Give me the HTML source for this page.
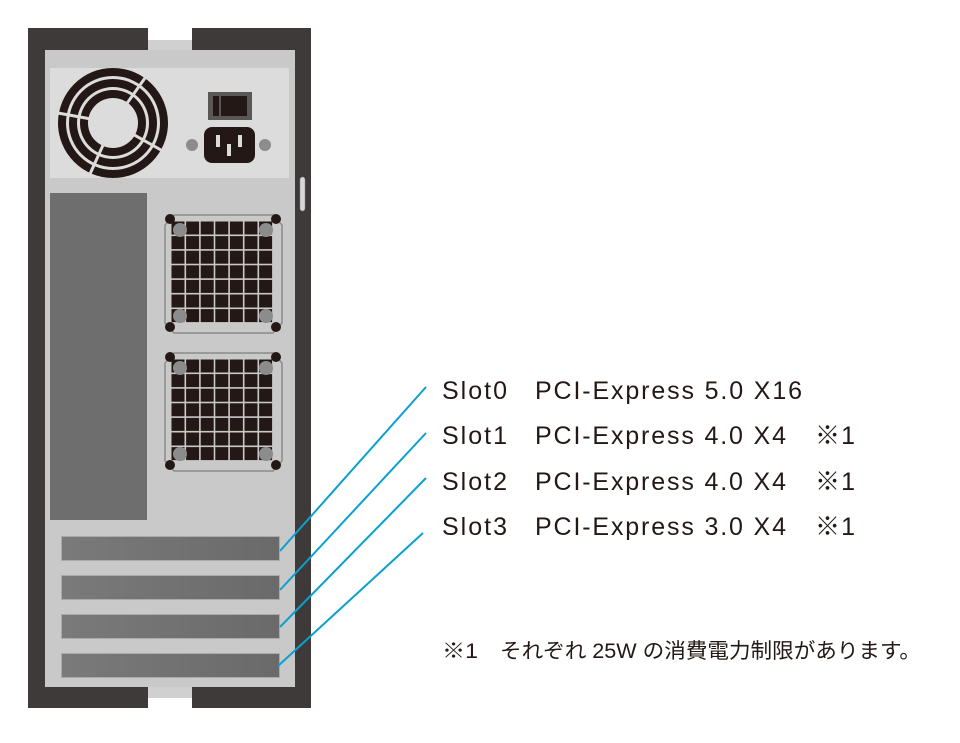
<!DOCTYPE html>
<html><head><meta charset="utf-8"><style>html,body{margin:0;padding:0;background:#fff}svg{display:block}</style></head>
<body>
<svg width="960" height="743" viewBox="0 0 960 743" xmlns="http://www.w3.org/2000/svg">
<defs>
<linearGradient id="sg" x1="0" x2="1" y1="0" y2="0"><stop offset="0" stop-color="#7a7a7a"/><stop offset="1" stop-color="#6a6a6a"/></linearGradient>
</defs>
<rect x="28" y="28" width="283" height="680" fill="#3e3a39"/>
<rect x="148" y="28" width="44" height="12" fill="#fff"/>
<rect x="148" y="698" width="44" height="10" fill="#fff"/>
<rect x="45" y="50" width="250" height="637" fill="#c9c9c9"/>
<rect x="148" y="40" width="44" height="10" fill="#d0d0d0"/>
<rect x="148" y="687" width="44" height="11" fill="#d0d0d0"/>
<rect x="300" y="177" width="5" height="34" rx="2.5" fill="#d8d8d8" stroke="#888" stroke-width="0.5"/>
<rect x="50" y="68" width="239" height="110" fill="#dcdcdc"/>
<g transform="translate(113,123)">
  <circle r="55" fill="#231815"/>
  <circle r="47" fill="#dcdcdc"/>
  <circle r="44" fill="#231815"/>
  <circle r="36" fill="#dcdcdc"/>
  <circle r="33" fill="#231815"/>
  <g stroke="#dcdcdc" stroke-width="3">
    <line x1="0" y1="0" x2="32" y2="-45"/>
    <line x1="0" y1="0" x2="-55" y2="-10"/>
    <line x1="0" y1="0" x2="-23" y2="51"/>
    <line x1="0" y1="0" x2="48" y2="27"/>
  </g>
  <circle r="25" fill="#dcdcdc"/>
</g>
<rect x="208" y="92" width="44" height="28" fill="#5a5757"/>
<rect x="213" y="96" width="6" height="20" fill="#231815"/>
<rect x="221" y="96" width="26" height="20" fill="#231815"/>
<circle cx="192" cy="145" r="6" fill="#8c8c8c"/>
<circle cx="265" cy="145" r="6" fill="#8c8c8c"/>
<rect x="204" y="127" width="51" height="36" rx="8" fill="#231815"/>
<rect x="216" y="135" width="4" height="12" fill="#dcdcdc"/>
<rect x="238" y="135" width="4" height="12" fill="#dcdcdc"/>
<rect x="227" y="144" width="4" height="12" fill="#dcdcdc"/>
<rect x="50" y="193" width="97" height="327" fill="#6e6e6e"/>
<g id="grilles"></g>
<g fill="url(#sg)" stroke="#aaa" stroke-width="1">
<rect x="61.5" y="536.5" width="218" height="24"/>
<rect x="61.5" y="575.5" width="218" height="24"/>
<rect x="61.5" y="614.5" width="218" height="24"/>
<rect x="61.5" y="653.5" width="218" height="24"/>
</g>
<g stroke="#0aa0d0" stroke-width="2">
<line x1="280" y1="551" x2="426" y2="387"/>
<line x1="280" y1="590" x2="426" y2="433"/>
<line x1="280" y1="627" x2="426" y2="478"/>
<line x1="278" y1="666" x2="423" y2="533"/>
</g>
<g font-family="Liberation Sans, Noto Sans CJK JP, sans-serif" font-size="25" fill="#231815" lengthAdjust="spacingAndGlyphs">
<text x="442" y="399" textLength="65">Slot0</text><text x="535" y="399" textLength="267">PCI-Express 5.0 X16</text>
<text x="442" y="444" textLength="65">Slot1</text><text x="535" y="444" textLength="251">PCI-Express 4.0 X4</text><text x="815" y="444" textLength="40">※1</text>
<text x="442" y="490" textLength="65">Slot2</text><text x="535" y="490" textLength="251">PCI-Express 4.0 X4</text><text x="815" y="490" textLength="40">※1</text>
<text x="442" y="535" textLength="65">Slot3</text><text x="535" y="535" textLength="251">PCI-Express 3.0 X4</text><text x="815" y="535" textLength="40">※1</text>
</g>
<g font-family="Liberation Sans, Noto Sans CJK JP, sans-serif" font-size="21" fill="#231815">
<text x="442" y="658" textLength="36" lengthAdjust="spacingAndGlyphs">※1</text>
<text x="500" y="658" textLength="421" lengthAdjust="spacingAndGlyphs">それぞれ 25W の消費電力制限があります。</text>
</g>
</svg>
<script>
(function(){
 var ns='http://www.w3.org/2000/svg', g=document.getElementById('grilles');
 function el(t,a){var e=document.createElementNS(ns,t);for(var k in a)e.setAttribute(k,a[k]);g.appendChild(e);return e;}
 [215,353].forEach(function(oy){
  var ox=165;
  el('path',{d:'M'+(ox+9)+' '+oy+' H'+(ox+108)+' L'+(ox+117)+' '+(oy+10)+' V'+(oy+108)+' L'+(ox+108)+' '+(oy+118)+' H'+(ox+9)+' L'+ox+' '+(oy+108)+' V'+(oy+10)+' Z',fill:'none',stroke:'#8a8a8a','stroke-width':1.5});
  for(var r=0;r<7;r++)for(var c=0;c<7;c++){
   el('rect',{x:ox+6.5+c*14.6,y:oy+6.5+r*14.6,width:13,height:13,fill:'#231815'});
  }
  [[15,15],[101,15],[15,101],[101,101]].forEach(function(p){el('circle',{cx:ox+p[0],cy:oy+p[1],r:7,fill:'#8c8c8c'});});
  [[5,4],[111,4],[5,112],[111,112]].forEach(function(p){el('circle',{cx:ox+p[0],cy:oy+p[1],r:5,fill:'#231815'});});
 });
})();
</script>
</body></html>
